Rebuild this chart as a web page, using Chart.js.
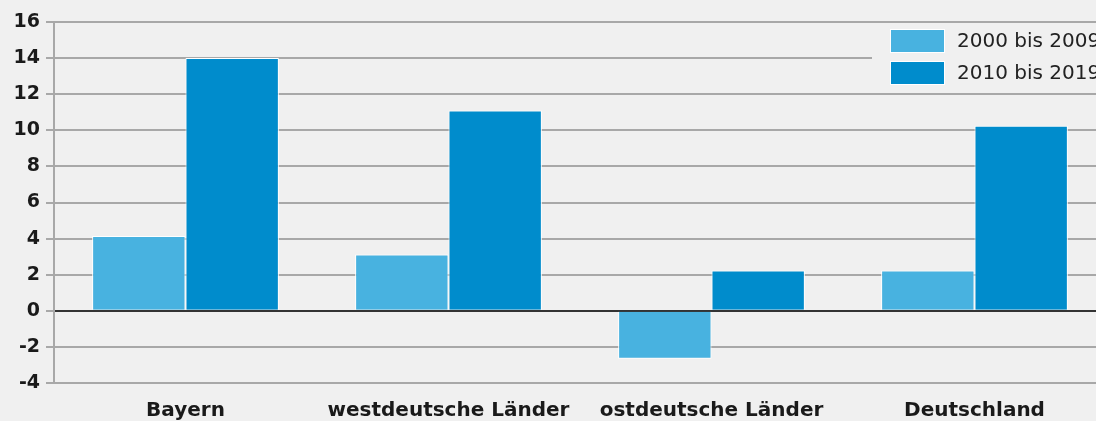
<!DOCTYPE html>
<html>
<head>
<meta charset="utf-8">
<script src="https://cdn.jsdelivr.net/npm/chart.js@4"></script>
<style>
  html, body { margin: 0; padding: 0; background: #f0f0f0; overflow: hidden; }
  #wrap { position: relative; width: 1110px; height: 440px; }
</style>
</head>
<body>
<div id="wrap"><canvas id="c"></canvas></div>
<script>
const categories = ['Bayern', 'westdeutsche Länder', 'ostdeutsche Länder', 'Deutschland'];
const series1Label = '2000 bis 2009';
const series2Label = '2010 bis 2019';
const series1 = [4.15, 3.12, -2.65, 2.23];
const series2 = [14.0, 11.1, 2.23, 10.25];
const yTicks = [-4, -2, 0, 2, 4, 6, 8, 10, 12, 14, 16];

const FONT = "'DejaVu Sans', sans-serif";

const insideLegend = {
  id: 'insideLegend',
  afterDraw(chart) {
    const ctx = chart.ctx;
    const ds = chart.data.datasets;
    ctx.save();
    ctx.fillStyle = '#f0f0f0';
    ctx.fillRect(872, 25, 260, 65);
    ds.forEach((d, i) => {
      const y = 30 + i * 32;
      ctx.fillStyle = '#ffffff';
      ctx.fillRect(890, y - 1, 55, 24);
      ctx.fillStyle = d.backgroundColor;
      ctx.fillRect(891, y, 53, 22);
      ctx.fillStyle = '#222222';
      ctx.font = "20px " + FONT;
      ctx.textBaseline = 'middle';
      ctx.textAlign = 'left';
      ctx.fillText(d.label, 957, y + 11.5);
    });
    ctx.restore();
  }
};

new Chart(document.getElementById('c'), {
  type: 'bar',
  data: {
    labels: categories,
    datasets: [
      { label: series1Label, data: series1, backgroundColor: '#48b2e0', borderColor: '#ffffff', borderWidth: 1 },
      { label: series2Label, data: series2, backgroundColor: '#008ccc', borderColor: '#ffffff', borderWidth: 1 }
    ]
  },
  options: {
    responsive: true,
    maintainAspectRatio: false,
    animation: false,
    layout: { padding: { top: 22, bottom: 1, left: 0, right: 4 } },
    plugins: { legend: { display: false }, tooltip: { enabled: false } },
    datasets: { bar: { categoryPercentage: 0.71, barPercentage: 1.0 } },
    scales: {
      x: {
        grid: { display: false, drawTicks: false },
        border: { display: false },
        ticks: { color: '#1a1a1a', padding: 16, font: { family: FONT, size: 20, weight: 'bold' }, maxRotation: 0, autoSkip: false }
      },
      y: {
        min: -4, max: 16,
        afterBuildTicks(scale) { scale.ticks = yTicks.map(v => ({ value: v })); },
        afterFit(scale) { scale.width = 54; },
        grid: {
          color: ctx => ctx.tick && ctx.tick.value === 0 ? '#333333' : '#a8a8a8',
          lineWidth: 2,
          tickLength: 8,
          tickColor: '#a8a8a8'
        },
        border: { display: true, color: '#a8a8a8', width: 2 },
        ticks: { color: '#1a1a1a', padding: 6, font: { family: FONT, size: 19, weight: 'bold' } }
      }
    }
  },
  plugins: [insideLegend]
});
</script>
</body>
</html>
